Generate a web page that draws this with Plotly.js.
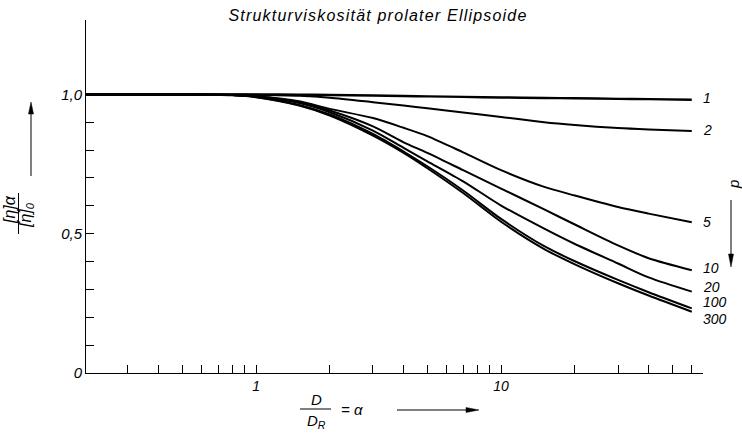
<!DOCTYPE html>
<html>
<head>
<meta charset="utf-8">
<script src="https://cdn.plot.ly/plotly-3.0.1.min.js"></script>
<style>
html,body{margin:0;padding:0;background:#fff}
#chart{width:742px;height:433px}
#chart .gtitle{letter-spacing:1.2px}
</style>
</head>
<body>
<div id="chart"></div>
<script>
// shear rate alpha = D/D_R (log axis)
const alpha = [0.2, 0.5, 0.8, 1, 1.5, 2, 3, 4, 5, 7, 10, 15, 20, 30, 40, 60];
// axial ratio p for each curve
const pLabels = ['1', '2', '5', '10', '20', '100', '300'];
// [eta]_alpha / [eta]_0 for each p
const p1   = [1, 1, 1, 1, 0.999, 0.998, 0.996, 0.994, 0.993, 0.991, 0.989, 0.987, 0.986, 0.984, 0.983, 0.981];
const p2   = [1, 1, 1, 0.999, 0.995, 0.988, 0.972, 0.960, 0.950, 0.935, 0.919, 0.900, 0.890, 0.879, 0.874, 0.869];
const p5   = [1, 1, 0.998, 0.993, 0.975, 0.948, 0.915, 0.880, 0.850, 0.792, 0.728, 0.668, 0.637, 0.596, 0.572, 0.541];
const p10  = [1, 1, 0.998, 0.993, 0.972, 0.942, 0.885, 0.828, 0.790, 0.728, 0.662, 0.587, 0.533, 0.458, 0.412, 0.369];
const p20  = [1, 1, 0.998, 0.992, 0.969, 0.936, 0.870, 0.808, 0.760, 0.688, 0.601, 0.518, 0.463, 0.393, 0.343, 0.292];
const p100 = [1, 1, 0.998, 0.991, 0.962, 0.928, 0.858, 0.795, 0.742, 0.655, 0.553, 0.455, 0.401, 0.334, 0.290, 0.232];
const p300 = [1, 1, 0.997, 0.990, 0.960, 0.924, 0.852, 0.790, 0.735, 0.646, 0.543, 0.445, 0.390, 0.322, 0.278, 0.220];
const series = [p1, p2, p5, p10, p20, p100, p300];
// vertical nudges so the end labels don't collide
const labelShift = [2, 1, 0, 2, 5, 6, -7];

// axis ticks: labelled (major) and unlabelled (minor)
const xTickVals = [1, 10];
const xTickText = ['1', '10'];
const xMinorVals = [0.3,0.4,0.5,0.6,0.7,0.8,0.9,2,3,4,5,6,7,8,9,20,30,40,50,60];
const yTickVals = [0, 0.5, 1.0];
const yTickText = ['0', '0,5', '1,0'];
const yMinorVals = [0.1,0.2,0.3,0.4,0.6,0.7,0.8,0.9];

const W = 742, H = 433, ML = 86, MR = 39, MT = 20, MB = 60;
const PW = W - ML - MR, PH = H - MT - MB;
const px = x => (x - ML) / PW;          // pixel -> paper (x)
const py = y => (H - MB - y) / PH;      // pixel -> paper (y)

const FONT = '"Liberation Sans", Arial, sans-serif';
const italic = (size) => ({family: FONT, size: size, color: '#000', style: 'italic'});

const traces = series.map((ys, i) => ({
  x: alpha, y: ys, type: 'scatter', mode: 'lines',
  line: {color: '#000', width: i === 0 ? 2.4 : 2, shape: 'spline', smoothing: 0.8},
  hoverinfo: 'skip', showlegend: false
}));

const annotations = series.map((ys, i) => ({
  xref: 'x', yref: 'y', x: Math.log10(alpha[alpha.length - 1]), y: ys[ys.length - 1],
  text: pLabels[i], showarrow: false, xanchor: 'left', yanchor: 'middle',
  xshift: 9, yshift: labelShift[i], font: italic(14)
}));

const txt = (x, y, text, size, angle) => ({
  xref: 'paper', yref: 'paper', x: px(x), y: py(y), text: text, showarrow: false,
  xanchor: 'center', yanchor: 'middle', textangle: angle || 0, font: italic(size)
});

annotations.push(
  // y-axis title: rotated fraction
  txt(10, 210, '[η]α', 16, -90),
  txt(26, 215, '[η]<sub>0</sub>', 16, -90),
  // x-axis title: fraction D / D_R = alpha
  txt(316, 400, 'D', 15),
  txt(316, 421, 'D<sub>R</sub>', 15),
  txt(352, 409, '= α', 15),
  // p
  txt(733, 185, 'p', 15, -90)
);

// arrows drawn as line + filled triangle (pixel geometry converted to paper)
function arrow(x0, y0, x1, y1, len, half) {
  const dx = x1 - x0, dy = y1 - y0, L = Math.hypot(dx, dy);
  const ux = dx / L, uy = dy / L;
  const bx = x1 - ux * len, by = y1 - uy * len;
  const nx = -uy * half, ny = ux * half;
  return [
    {type:'line', xref:'paper', yref:'paper', x0:px(x0), y0:py(y0), x1:px(bx), y1:py(by),
     line:{color:'#000', width:1}},
    {type:'path', xref:'paper', yref:'paper',
     path:`M ${px(x1)} ${py(y1)} L ${px(bx + nx)} ${py(by + ny)} L ${px(bx - nx)} ${py(by - ny)} Z`,
     fillcolor:'#000', line:{color:'#000', width:0.5}}
  ];
}

const shapes = [
  // fraction bars
  {type:'line', xref:'paper', yref:'paper', x0:px(18.5), x1:px(18.5), y0:py(234), y1:py(193), line:{color:'#000', width:1}},
  {type:'line', xref:'paper', yref:'paper', x0:px(300), x1:px(331), y0:py(409), y1:py(409), line:{color:'#000', width:1}},
  ...arrow(31, 176, 31, 102, 12, 2.5),
  ...arrow(397, 410, 479, 410, 13, 2.5),
  ...arrow(731, 200, 731, 267, 13, 2.5)
];

const tickStyle = {ticks: 'inside', ticklen: 8, tickwidth: 1, tickcolor: '#000'};

const layout = {
  width: W, height: H,
  margin: {l: ML, r: MR, t: MT, b: MB},
  paper_bgcolor: '#fff', plot_bgcolor: '#fff',
  font: italic(13),
  title: {text: 'Strukturviskosität prolater Ellipsoide', font: italic(16),
          x: 378/W, xref: 'container', xanchor: 'center', y: 1 - 15/H, yref: 'container', yanchor: 'middle'},
  xaxis: Object.assign({type: 'log', range: [-0.694, 1.824], tickmode: 'array', tickvals: xTickVals, ticktext: xTickText,
          minor: Object.assign({tickmode: 'array', tickvals: xMinorVals, showgrid: false}, tickStyle),
          showline: true, linecolor: '#000', linewidth: 1, showgrid: false, zeroline: false,
          tickfont: italic(14), fixedrange: true}, tickStyle),
  yaxis: Object.assign({range: [0, 1.267], tickmode: 'array', tickvals: yTickVals, ticktext: yTickText,
          minor: Object.assign({tickmode: 'array', tickvals: yMinorVals, showgrid: false}, tickStyle),
          showline: true, linecolor: '#000', linewidth: 1, showgrid: false, zeroline: false,
          tickfont: italic(15), fixedrange: true}, tickStyle),
  annotations: annotations,
  shapes: shapes,
  showlegend: false
};

Plotly.newPlot('chart', traces, layout, {displayModeBar: false, staticPlot: true});
</script>
</body>
</html>
